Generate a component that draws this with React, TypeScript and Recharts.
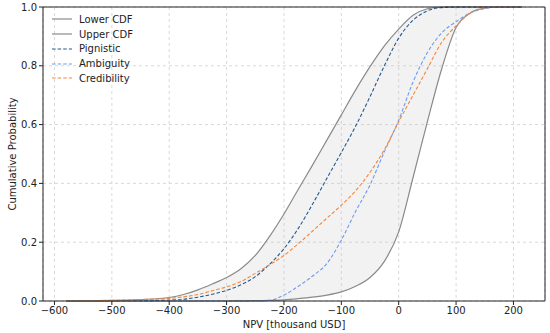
import { ComposedChart, Line, Area, XAxis, YAxis, CartesianGrid, ReferenceLine } from "recharts";

// NPV grid (thousand USD)
const npv = [-580, -550, -500, -450, -400, -375, -350, -325, -300, -275, -250, -225, -200, -175, -150, -125, -100, -75, -50, -25, 0, 25, 50, 75, 100, 125, 150, 175, 200, 215];

const upperCdf = [0, 0.0005, 0.002, 0.005, 0.012, 0.022, 0.038, 0.058, 0.08, 0.11, 0.155, 0.22, 0.296, 0.38, 0.463, 0.548, 0.633, 0.718, 0.797, 0.868, 0.925, 0.972, 0.994, 1, 1, 1, 1, 1, 1, 1];
const lowerCdf = [0, 0, 0, 0, 0, 0, 0, 0, 0, 0.0005, 0.001, 0.002, 0.004, 0.008, 0.013, 0.02, 0.031, 0.05, 0.08, 0.135, 0.235, 0.42, 0.61, 0.79, 0.93, 0.98, 0.996, 1, 1, 1];
const pignistic = [0, 0, 0.0005, 0.001, 0.003, 0.006, 0.013, 0.023, 0.036, 0.055, 0.083, 0.125, 0.178, 0.247, 0.33, 0.418, 0.505, 0.595, 0.695, 0.8, 0.894, 0.955, 0.987, 0.998, 1, 1, 1, 1, 1, 1];
const ambiguity = [0, 0, 0, 0, 0, 0, 0, 0, 0, 0, 0, 0.002, 0.02, 0.05, 0.085, 0.128, 0.207, 0.305, 0.395, 0.508, 0.615, 0.745, 0.845, 0.912, 0.95, 0.98, 0.995, 1, 1, 1];
const credibility = [0, 0.0005, 0.002, 0.005, 0.009, 0.014, 0.022, 0.035, 0.048, 0.066, 0.094, 0.123, 0.155, 0.195, 0.238, 0.282, 0.326, 0.375, 0.438, 0.515, 0.61, 0.7, 0.79, 0.88, 0.936, 0.98, 0.997, 1, 1, 1];

const xTicks = [-600, -500, -400, -300, -200, -100, 0, 100, 200];
const yTicks = [0, 0.2, 0.4, 0.6, 0.8, 1.0];

const data = npv.map((x, i) => ({
  x,
  lower: lowerCdf[i],
  upper: upperCdf[i],
  band: [lowerCdf[i], upperCdf[i]],
  pignistic: pignistic[i],
  ambiguity: ambiguity[i],
  credibility: credibility[i],
}));

const FONT = "'DejaVu Sans', sans-serif";
const GRAY = "#8a8a8a";
const DASH = "3.6 2";

const legendItems = [
  { name: "Lower CDF", color: GRAY, dash: undefined },
  { name: "Upper CDF", color: GRAY, dash: undefined },
  { name: "Pignistic", color: "#245a8c", dash: DASH },
  { name: "Ambiguity", color: "#6f9bf0", dash: DASH },
  { name: "Credibility", color: "#f5873a", dash: DASH },
];

export default function App() {
  return (
    <div style={{ position: "absolute", left: 0, top: 0, width: 550, height: 333, background: "#fff", fontFamily: FONT }}>
      <ComposedChart width={550} height={333} data={data} margin={{ top: 7, right: 5, left: 0, bottom: 0 }}>
        <CartesianGrid stroke="#d9d9d9" strokeDasharray="3 3" />
        <XAxis
          dataKey="x"
          type="number"
          domain={[-620, 255]}
          ticks={xTicks}
          height={32}
          tickSize={4}
          tickMargin={2}
          stroke="#222"
          tick={{ fontSize: 10, fill: "#222", fontFamily: FONT }}
          tickFormatter={(v: number) => (v < 0 ? `\u2212${Math.abs(v)}` : `${v}`)}
          label={({ viewBox }: any) => (
            <text x={viewBox.x + viewBox.width / 2} y={328} textAnchor="middle" fontSize={10} fill="#222" fontFamily={FONT}>
              NPV [thousand USD]
            </text>
          )}
        />
        <YAxis
          type="number"
          domain={[0, 1]}
          ticks={yTicks}
          width={43}
          tickSize={4}
          tickMargin={2}
          stroke="#222"
          tick={{ fontSize: 10, fill: "#222", fontFamily: FONT }}
          tickFormatter={(v: number) => v.toFixed(1)}
          label={({ viewBox }: any) => {
            const cy = viewBox.y + viewBox.height / 2;
            return (
              <text x={12} y={cy} transform={`rotate(-90, 12, ${cy})`} textAnchor="middle" dominantBaseline="central" fontSize={10} fill="#222" fontFamily={FONT}>
                Cumulative Probability
              </text>
            );
          }}
        />
        <Area dataKey="band" type="monotone" stroke="none" fill="#c4c4c4" fillOpacity={0.22} isAnimationActive={false} />
        <Line dataKey="lower" type="monotone" stroke={GRAY} strokeWidth={1.2} dot={false} isAnimationActive={false} />
        <Line dataKey="upper" type="monotone" stroke={GRAY} strokeWidth={1.2} dot={false} isAnimationActive={false} />
        <Line dataKey="pignistic" type="monotone" stroke="#245a8c" strokeWidth={1.1} strokeDasharray={DASH} dot={false} isAnimationActive={false} />
        <Line dataKey="ambiguity" type="monotone" stroke="#6f9bf0" strokeWidth={1.1} strokeDasharray={DASH} dot={false} isAnimationActive={false} />
        <Line dataKey="credibility" type="monotone" stroke="#f5873a" strokeWidth={1.1} strokeDasharray={DASH} dot={false} isAnimationActive={false} />
        <ReferenceLine y={1} stroke="#222" strokeWidth={1} />
        <ReferenceLine x={255} stroke="#222" strokeWidth={1} />
      </ComposedChart>
      <div style={{ position: "absolute", left: 52, top: 12 }}>
        {legendItems.map((it) => (
          <div key={it.name} style={{ display: "flex", alignItems: "center", height: 14.75, fontSize: 10, color: "#222" }}>
            <svg width={20} height={4} style={{ marginRight: 7 }}>
              <line x1={0} y1={2} x2={20} y2={2} stroke={it.color} strokeWidth={1.2} strokeDasharray={it.dash} />
            </svg>
            <span>{it.name}</span>
          </div>
        ))}
      </div>
    </div>
  );
}
